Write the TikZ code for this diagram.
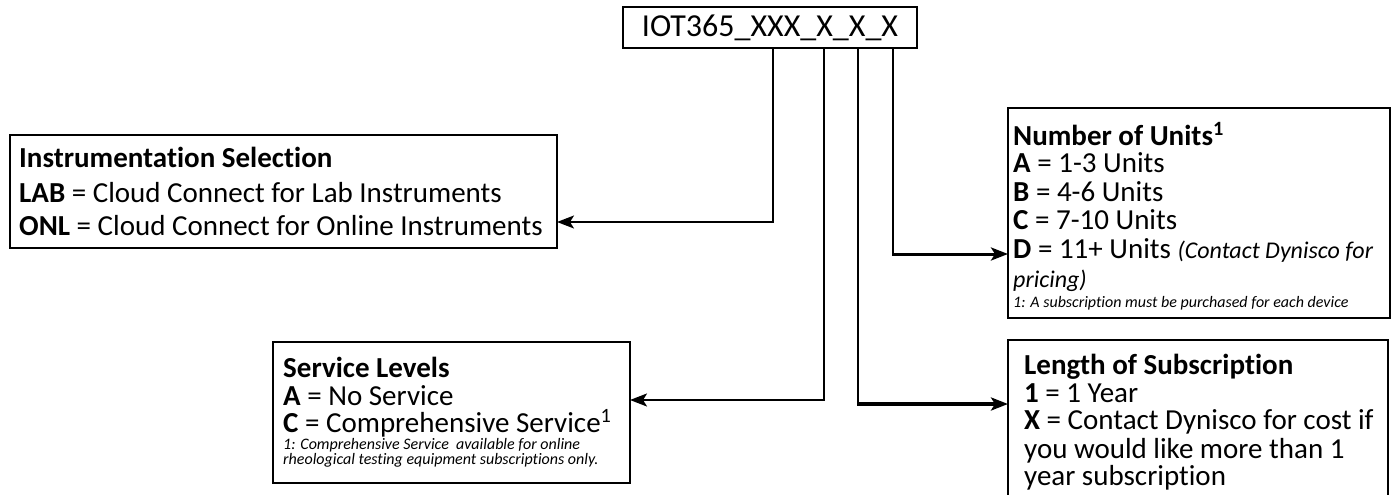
\documentclass[tikz,border=0pt]{standalone}
\usepackage{fontspec}
\setmainfont{Carlito}[Ligatures={NoCommon}]
\usetikzlibrary{arrows.meta}
\begin{document}
\begin{tikzpicture}[x=1pt,y=-1pt,
  box/.style={draw, line width=2.8pt, inner sep=0pt, outer sep=0pt, anchor=north west},
  txt/.style={anchor=base west, inner sep=0pt, font=\fontsize{29}{29}\selectfont},
  note/.style={anchor=base west, inner sep=0pt, font=\fontsize{16}{16}\selectfont\itshape},
  conn/.style={-{Stealth[length=17pt,width=13pt,inset=4pt]}, line width=1.8pt},
]
\useasboundingbox (0,0) rectangle (1398,495);

% code box
\node[box, anchor=center, minimum width=294pt, minimum height=41pt,
      font=\fontsize{32}{32}\selectfont] (code) at (770,27.5) {IOT365\_XXX\_X\_X\_X};

% instrumentation
\node[box, minimum width=547pt, minimum height=113pt] (instr) at (10,135) {};
\node[txt] (instrT) at (19,167) {\textbf{Instrumentation Selection}};
\node[txt] (instrA) at (19,202) {\textbf{LAB} = Cloud Connect for Lab Instruments};
\node[txt] (instrB) at (19,235) {\textbf{ONL} = Cloud Connect for Online Instruments};

% service levels
\node[box, minimum width=357pt, minimum height=141pt] (serv) at (273,342) {};
\node[txt] (servT) at (283,377) {\textbf{Service Levels}};
\node[txt] (servA) at (283,405) {\textbf{A} = No Service};
\node[txt] (servC) at (283,432) {\textbf{C} = Comprehensive Service\textsuperscript{1}};
\node[note] (servN1) at (283,449) {1: Comprehensive Service\ \ available for online};
\node[note] (servN2) at (283,464) {rheological testing equipment subscriptions only.};

% number of units
\node[box, minimum width=382pt, minimum height=210pt] (units) at (1008,108) {};
\node[txt] (unitsT) at (1013,145) {\textbf{Number of Units\textsuperscript{1}}};
\node[txt] (unitsA) at (1013,172) {\textbf{A} = 1-3 Units};
\node[txt] (unitsB) at (1013,201) {\textbf{B} = 4-6 Units};
\node[txt] (unitsC) at (1013,229) {\textbf{C} = 7-10 Units};
\node[txt] (unitsD) at (1013,258) {\textbf{D} = 11+ Units {\fontsize{24}{24}\selectfont\itshape (Contact Dynisco for}};
\node[txt, font=\fontsize{24}{24}\selectfont\itshape] (unitsP) at (1013,287) {pricing)};
\node[note] (unitsN) at (1013,307) {1: A subscription must be purchased for each device};

% length of subscription
\node[box, minimum width=380pt, minimum height=170pt] (len) at (1008,340) {};
\node[txt] (lenT) at (1024,374) {\textbf{Length of Subscription}};
\node[txt] (len1) at (1024,402) {\textbf{1} = 1 Year};
\node[txt] (lenX) at (1024,429) {\textbf{X} = Contact Dynisco for cost if};
\node[txt] (lenY) at (1024,458) {you would like more than 1};
\node[txt] (lenZ) at (1024,485) {year subscription};

% connectors
\coordinate (s1) at (773,48);
\coordinate (s2) at (824,48);
\coordinate (s3) at (858,48);
\coordinate (s4) at (893,48);
\coordinate (k1) at (773,222);
\coordinate (k2) at (824,400);
\coordinate (k3) at (858,404);
\coordinate (k4) at (893,254);

\draw[conn] (s1) |- (instr.east |- k1);
\draw[conn, line width=2.2pt] (s2) |- (serv.east |- k2);
\draw[line width=1.5pt] (s3) -- (k3);
\draw[conn, line width=4pt] ([xshift=-0.75pt]k3) -- (len.west |- k3);
\draw[line width=1.3pt] (s4) -- (k4);
\draw[conn, line width=3pt] ([xshift=-0.65pt]k4) -- (units.west |- k4);
\end{tikzpicture}
\end{document}
